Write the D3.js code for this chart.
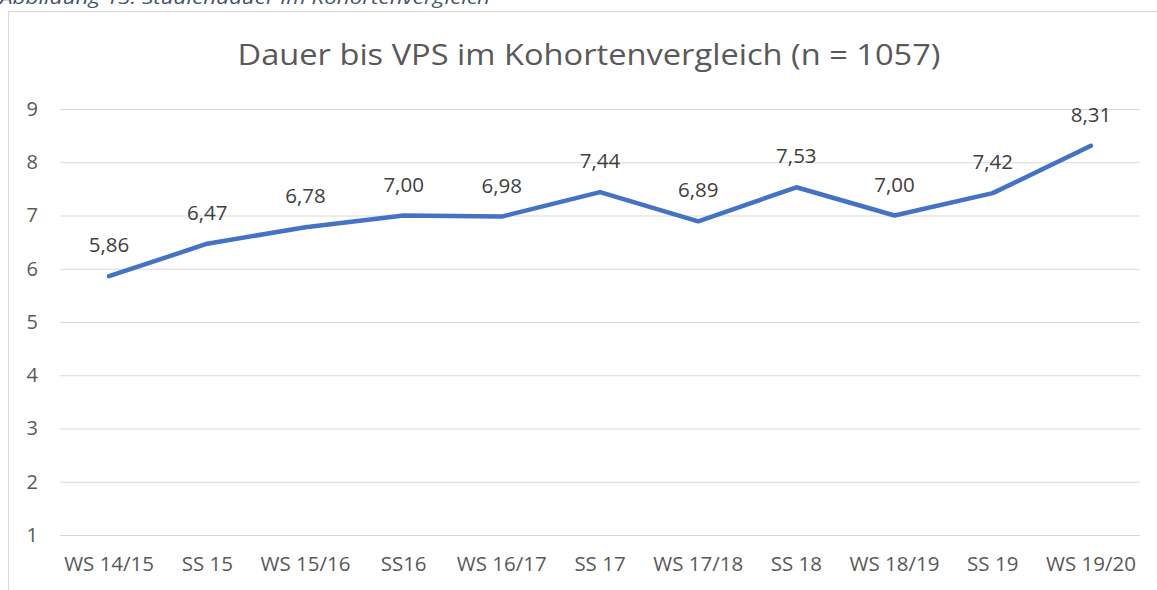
<!DOCTYPE html>
<html><head><meta charset="utf-8">
<script src="https://cdn.jsdelivr.net/npm/d3@7"></script>
<style>
html,body{margin:0;padding:0;background:#fff;}
svg{display:block;font-family:"Open Sans", Lato, sans-serif;}
</style></head>
<body><svg id="c" width="1157" height="590"></svg>
<script>
const categories = ["WS 14/15","SS 15","WS 15/16","SS16","WS 16/17","SS 17","WS 17/18","SS 18","WS 18/19","SS 19","WS 19/20"];
const values = [5.86,6.47,6.78,7.00,6.98,7.44,6.89,7.53,7.00,7.42,8.31];
const yTicks = [1,2,3,4,5,6,7,8,9];
const title = "Dauer bis VPS im Kohortenvergleich (n = 1057)";
const caption = "Abbildung 13: Studiendauer im Kohortenvergleich";

const svg = d3.select("#c");
const plotLeft = 60, plotRight = 1140, plotTop = 109, plotBottom = 535;
const FONT = "'Open Sans', Lato, sans-serif";

// caption (cut off at top, as in the reference)
svg.append("text").attr("x", 0).attr("y", 4).attr("font-size", 19).attr("font-style","italic")
  .attr("fill", "#44546A").attr("textLength", 490).attr("lengthAdjust","spacingAndGlyphs").text(caption);

// chart border
svg.append("rect").attr("x", 8.5).attr("y", 11.5).attr("width", 1160).attr("height", 600)
  .attr("fill", "none").attr("stroke", "#d9d9d9").attr("stroke-width", 1);

svg.append("text").attr("x", 589).attr("y", 65).attr("text-anchor","middle")
  .attr("font-size", 30).attr("fill", "#595959")
  .attr("textLength", 703).attr("lengthAdjust","spacingAndGlyphs").text(title);

const x = d3.scaleBand().domain(categories).range([plotLeft, plotRight]);
const y = d3.scaleLinear().domain([1, 9]).range([plotBottom, plotTop]);

const yAxis = svg.append("g").attr("transform", `translate(${plotLeft},0)`)
  .call(d3.axisLeft(y).tickValues(yTicks).tickSize(-(plotRight-plotLeft)).tickPadding(22).tickFormat(d3.format("d")));
yAxis.select(".domain").remove();
yAxis.selectAll(".tick line").attr("stroke", "#d9d9d9").attr("stroke-width", 1);
yAxis.selectAll(".tick text").attr("fill", "#595959").attr("font-size", 20).attr("font-family", FONT);

const xAxis = svg.append("g").attr("transform", `translate(0,${plotBottom})`)
  .call(d3.axisBottom(x).tickSize(0).tickPadding(21));
xAxis.select(".domain").remove();
xAxis.selectAll(".tick text").attr("fill", "#595959").attr("font-size", 20.5).attr("font-family", FONT);

const line = d3.line().x((d,i) => x(categories[i]) + x.bandwidth()/2).y(d => y(d));
svg.append("path").datum(values).attr("d", line).attr("fill","none")
  .attr("stroke", "#4472C4").attr("stroke-width", 4.5).attr("stroke-linejoin","round").attr("stroke-linecap","round");

const fmt = v => v.toFixed(2).replace(".", ",");
svg.append("g").selectAll("text").data(values).join("text")
  .attr("x", (d,i) => x(categories[i]) + x.bandwidth()/2)
  .attr("y", d => y(d) - 24)
  .attr("text-anchor","middle").attr("font-size", 20.5).attr("fill", "#404040")
  .text(fmt);
</script></body></html>
